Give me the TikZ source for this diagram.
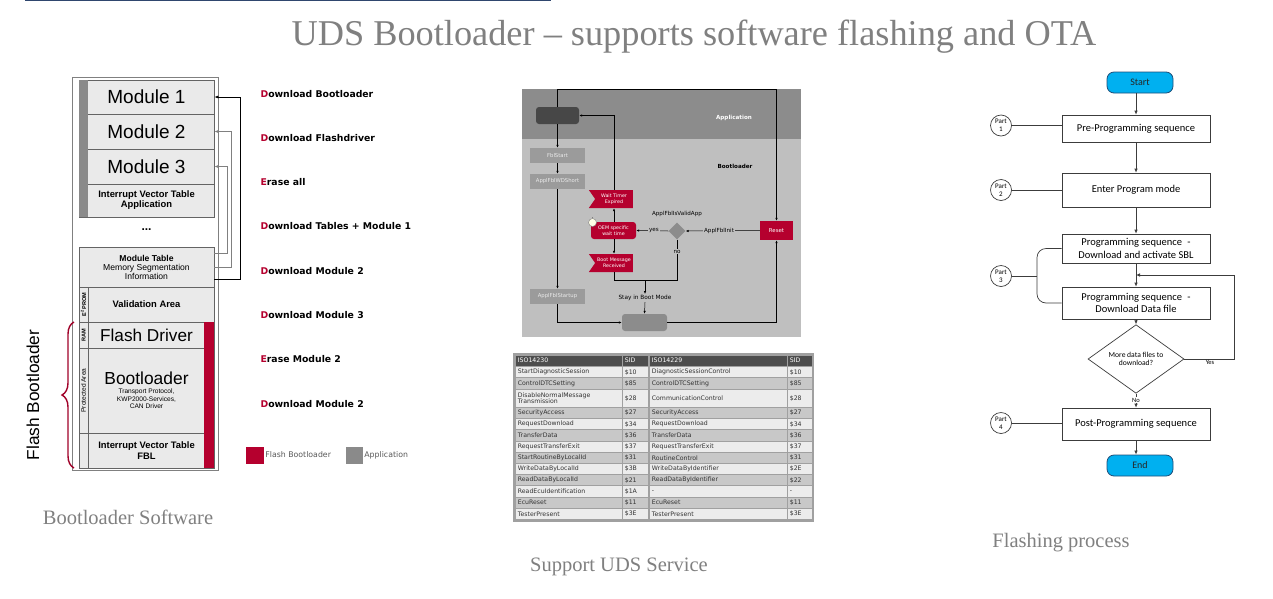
\documentclass[tikz,border=0pt]{standalone}
\usepackage{fontspec}
\setmainfont{Liberation Serif}
\newfontfamily\arial{Liberation Sans}
\newfontfamily\verd{DejaVu Sans}
\newfontfamily\cali{Carlito}
\usetikzlibrary{shapes.geometric,shapes.symbols,decorations.pathreplacing,arrows.meta,calc}
\definecolor{fbred}{RGB}{181,0,46}
\definecolor{bracered}{RGB}{160,0,40}
\definecolor{titlegray}{RGB}{128,128,128}
\definecolor{memline}{RGB}{100,100,100}
\definecolor{memfill}{RGB}{234,234,234}
\definecolor{stripgray}{RGB}{138,138,138}
\definecolor{topblue}{RGB}{47,70,110}
\definecolor{appband}{RGB}{140,140,140}
\definecolor{blband}{RGB}{191,191,191}
\definecolor{darkbox}{RGB}{71,71,71}
\definecolor{stbox}{RGB}{155,155,155}
\definecolor{thead}{RGB}{77,77,77}
\definecolor{tlight}{RGB}{236,236,236}
\definecolor{tdark}{RGB}{200,200,200}
\definecolor{tgrid}{RGB}{160,160,160}
\definecolor{fcblue}{RGB}{0,176,240}
\definecolor{fcblueline}{RGB}{31,78,121}
\definecolor{fcline}{RGB}{60,60,60}
\begin{document}
\begin{tikzpicture}[x=1pt,y=-1pt,
  mem/.style={draw=memline, line width=0.6pt, fill=memfill, minimum width=135pt, inner sep=0pt, align=center},
  dl/.style={anchor=west, font=\verd\bfseries\fontsize{9.3}{10}\selectfont},
  captxt/.style={text=titlegray, font=\fontsize{20.5}{23}\selectfont},
  sarr/.style={draw=black, line width=0.5pt, -{Latex[length=3pt,width=2.4pt]}},
  sline/.style={draw=black, line width=0.5pt},
  stb/.style={fill=stbox, text=white!92!black, minimum width=55pt, minimum height=15pt, inner sep=0pt, font=\verd\fontsize{5.3}{6}\selectfont},
  redb/.style={fill=fbred, text=white, inner sep=0pt, align=center, font=\verd\fontsize{4.8}{5.6}\selectfont},
  smalltxt/.style={font=\verd\fontsize{5.6}{6}\selectfont, inner sep=1pt},
  cell/.style={draw=tgrid, line width=0.7pt, inner xsep=2.5pt, inner ysep=0pt, anchor=west, align=left, font=\verd\fontsize{6.2}{6.8}\selectfont, text=black!80},
  fbox/.style={draw=fcline, line width=0.7pt, fill=white, minimum width=148pt, inner sep=0pt, align=center, font=\cali\fontsize{10.5}{12.5}\selectfont},
  term/.style={draw=fcblueline, line width=0.8pt, fill=fcblue, rounded corners=7pt, minimum width=66pt, minimum height=21pt, inner sep=0pt, font=\cali\fontsize{10}{12}\selectfont, text=black!85},
  part/.style={circle, draw=fcline, line width=0.7pt, fill=white, minimum size=21pt, inner sep=0pt, align=center, font=\cali\fontsize{7}{8}\selectfont},
  farr/.style={draw=fcline, line width=0.7pt, -{Latex[length=4pt,width=3.5pt]}},
  fline/.style={draw=fcline, line width=0.7pt}]
\useasboundingbox (0,0) rectangle (1273,598);
\fill[white] (0,0) rectangle (1273,598);
% top rule and title
\draw[topblue, line width=1.2pt] (25,0.6) -- (551,0.6);
\node[text=titlegray, font=\fontsize{36.3}{40}\selectfont] (title) at (694,37) {UDS Bootloader – supports software flashing and OTA};

% ================= LEFT: memory layout =================
\node[draw=titlegray, line width=0.6pt, minimum width=146pt, minimum height=393pt, inner sep=0pt] (outer) at (145,273.5) {};
\node[mem, minimum height=34pt, font=\arial\fontsize{19}{20}\selectfont] (m1) at (146.5,97) {Module 1};
\node[mem, minimum height=35pt, font=\arial\fontsize{19}{20}\selectfont] (m2) at (146.5,131.5) {Module 2};
\node[mem, minimum height=35pt, font=\arial\fontsize{19}{20}\selectfont] (m3) at (146.5,166.5) {Module 3};
\node[mem, minimum height=33pt, font=\arial\bfseries\fontsize{9.4}{10}\selectfont] (ivta) at (146.5,200.5) {Interrupt Vector Table\\Application};
\fill[stripgray] (79.3,80) rectangle (88,217);
\node[font=\arial\bfseries\fontsize{12}{12}\selectfont] (dots) at (146.5,230) {...};
\node[mem, minimum height=40pt, font=\arial\fontsize{8.6}{9}\selectfont] (mt) at (146.5,267) {\textbf{Module Table}\\Memory Segmentation\\Information};
\node[mem, minimum height=35pt, font=\arial\bfseries\fontsize{9.4}{10}\selectfont] (va) at (146.5,304.5) {Validation Area};
\node[mem, minimum height=26pt, font=\arial\fontsize{17.2}{18}\selectfont] (fd) at (146.5,335) {Flash Driver};
\node[mem, minimum height=85pt, font=\arial\fontsize{6.6}{7.6}\selectfont] (bl) at (146.5,390.5) {{\fontsize{17.4}{19}\selectfont Bootloader}\\[1pt]Transport Protocol,\\KWP2000-Services,\\CAN Driver};
\node[mem, minimum height=35pt, font=\arial\bfseries\fontsize{9.4}{11}\selectfont] (ivtf) at (146.5,450.5) {Interrupt Vector Table\\FBL};
\fill[fbred] (204,322) rectangle (214,468);
\draw[memline, line width=0.5pt] (88,287) -- (88,468);
\node[rotate=90, font=\arial\bfseries\fontsize{5.6}{6}\selectfont] (lbe) at (83.6,304.5) {E\textsuperscript{2}PROM};
\node[rotate=90, font=\arial\bfseries\fontsize{5.6}{6}\selectfont] (lbr) at (83.6,335) {RAM};
\node[rotate=90, font=\arial\fontsize{6.6}{7}\selectfont] (lbp) at (83.6,390.5) {Protected Area};
% pointers from module table
\draw[black, line width=0.6pt, -{Latex[length=4pt,width=3pt]}] ([yshift=-12pt]mt.east) -- ++(26,0) |- (m1.east);
\draw[gray, line width=0.6pt, -{Latex[length=4pt,width=3pt]}] (mt.east) -- ++(17,0) |- (m2.east);
\draw[gray, line width=0.6pt, -{Latex[length=4pt,width=3pt]}] ([yshift=14pt]mt.east) -- ++(13,0) |- (m3.east);
% brace
\draw[bracered, line width=1.4pt, decorate, decoration={brace, amplitude=12pt}] (74,468) -- (74,322);
\node[rotate=90, font=\arial\fontsize{17.3}{18}\selectfont] (fbl) at (33,395) {Flash Bootloader};
\node[captxt] (cap1) at (128,517) {Bootloader Software};

% download steps
\node[dl] (d1) at (257,94) {\textcolor{fbred}{D}ownload Bootloader};
\node[dl] (d2) at (257,138) {\textcolor{fbred}{D}ownload Flashdriver};
\node[dl] (d3) at (257,182) {\textcolor{fbred}{E}rase all};
\node[dl] (d4) at (257,226) {\textcolor{fbred}{D}ownload Tables + Module 1};
\node[dl] (d5) at (257,271) {\textcolor{fbred}{D}ownload Module 2};
\node[dl] (d6) at (257,315) {\textcolor{fbred}{D}ownload Module 3};
\node[dl] (d7) at (257,359) {\textcolor{fbred}{E}rase Module 2};
\node[dl] (d8) at (257,404) {\textcolor{fbred}{D}ownload Module 2};
% legend
\node[fill=fbred, minimum width=18pt, minimum height=17pt, inner sep=0pt] (lg1) at (255,455) {};
\node[anchor=west, inner sep=1pt, text=black!65, font=\verd\fontsize{7.8}{8}\selectfont] (lg1t) at (lg1.east) {Flash Bootloader};
\node[fill=stripgray, minimum width=17pt, minimum height=17pt, inner sep=0pt] (lg2) at (354.5,455) {};
\node[anchor=west, inner sep=1pt, text=black!65, font=\verd\fontsize{7.8}{8}\selectfont] (lg2t) at (lg2.east) {Application};

% ================= MIDDLE: state diagram =================
\fill[blband] (522,89) rectangle (801,337);
\fill[appband] (522,89) rectangle (801,139);
\node[fill=darkbox, rounded corners=3pt, minimum width=43pt, minimum height=17pt, inner sep=0pt] (dk) at (557.5,115.5) {};
\node[text=white, font=\verd\bfseries\fontsize{5.6}{6}\selectfont] (applbl) at (734,118) {Application};
\node[text=black, font=\verd\bfseries\fontsize{5.6}{6}\selectfont] (bllbl) at (735,166) {Bootloader};
\node[stb] (fs) at (557.5,155.5) {FblStart};
\node[stb] (wd) at (557.5,181.5) {ApplFblWDShort};
\node[stb] (su) at (557.5,296.5) {ApplFblStartup};
\node[fill=appband, rounded corners=3pt, minimum width=45pt, minimum height=17pt, inner sep=0pt] (bb) at (644.5,322.5) {};
\node[redb, minimum width=33pt, minimum height=19pt, font=\verd\fontsize{5.4}{6}\selectfont] (rst) at (776.5,230.5) {Reset};
\node[diamond, fill=appband, minimum width=17pt, minimum height=17pt, inner sep=0pt] (dia) at (677,231) {};
\node[redb, rounded corners=3pt, minimum width=45pt, minimum height=17pt] (oem) at (613.5,230.5) {OEM specific\\wait time};
\node[redb, signal, signal from=west, signal to=nowhere, signal pointer angle=110, minimum width=44pt, minimum height=18pt] (wte) at (614,199) {Wait Timer\\Expired};
\node[redb, signal, signal from=west, signal to=nowhere, signal pointer angle=110, minimum width=44pt, minimum height=18pt] (bmr) at (614,263) {Boot Message\\Received};
\node[circle, draw=gray, line width=0.4pt, fill=yellow!10!white, minimum size=8pt, inner sep=0pt] (clk) at (592.5,222.5) {};
\draw[gray, line width=0.6pt] (clk.north) -- ++(0,-1.5);
\node[smalltxt] (valid) at (677,214) {ApplFblIsValidApp};
\node[smalltxt, font=\verd\fontsize{5.8}{6}\selectfont] (sbm) at (645,298) {Stay in Boot Mode};
\coordinate (jn) at (645,280);
% connectors
\draw[sarr] (dk.north) -- ++(0,-17.5) -| (rst.north);
\draw[sarr] (dk.south) -- (fs.north);
\draw[sarr] (fs.south) -- (wd.north);
\draw[sarr] (wd.south) -- (su.north);
\draw[sarr] (su.south) |- (bb.west);
\draw[sarr] (bb.east) -| (rst.south);
\draw[sarr] (rst.west) -- node[smalltxt, fill=blband, pos=0.55] (initlbl) {ApplFblInit} (dia.east);
\draw[sarr] (dia.west) -- node[smalltxt, fill=blband, pos=0.45] (yeslbl) {yes} (oem.east);
\draw[sarr] (oem.north -| wte.south) -- (wte.south);
\draw[sarr] (wte.north) |- (dk.east);
\draw[sarr] (oem.south -| bmr.north) -- (bmr.north);
\draw[sline] (bmr.south) |- (jn);
\draw[sline] (dia.south) -- node[smalltxt, fill=blband, pos=0.3] (nolbl) {no} (dia.south |- jn) -- (jn);
\draw[sarr] (jn) -- (sbm.north);
\draw[sarr] (sbm.south) -- (bb.north);

% ================= MIDDLE: table =================
\fill[tgrid] (513,353) rectangle (814,521.5);
\node[cell, fill=thead, text=white, text width=102pt, minimum height=11.5pt] (h1) at (515,360.6) {ISO14230};
\node[cell, fill=thead, text=white, text width=21pt, minimum height=11.5pt] (h2) at (622,360.6) {SID};
\node[cell, fill=thead, text=white, text width=133pt, minimum height=11.5pt] (h3) at (649,360.6) {ISO14229};
\node[cell, fill=thead, text=white, text width=20pt, minimum height=11.5pt] (h4) at (787,360.6) {SID};
\foreach \i/\y/\h/\a/\b/\c/\d/\f in {
  1/372.1/11.2/StartDiagnosticSession/\$10/DiagnosticSessionControl/\$10/tlight,
  2/383.3/11.2/ControlDTCSetting/\$85/ControlDTCSetting/\$85/tdark,
  3/398.2/18.5/{DisableNormalMessage\\Transmission}/\$28/CommunicationControl/\$28/tlight,
  4/413.0/11.2/SecurityAccess/\$27/SecurityAccess/\$27/tdark,
  5/424.2/11.2/RequestDownload/\$34/RequestDownload/\$34/tlight,
  6/435.4/11.2/TransferData/\$36/TransferData/\$36/tdark,
  7/446.6/11.2/RequestTransferExit/\$37/RequestTransferExit/\$37/tlight,
  8/457.8/11.2/StartRoutineByLocalId/\$31/RoutineControl/\$31/tdark,
  9/469.0/11.2/WriteDataByLocalId/\$3B/WriteDataByIdentifier/\$2E/tlight,
  10/480.2/11.2/ReadDataByLocalId/\$21/ReadDataByIdentifier/\$22/tdark,
  11/491.4/11.2/ReadEcuIdentification/\$1A/-/-/tlight,
  12/502.6/11.2/EcuReset/\$11/EcuReset/\$11/tdark,
  13/513.8/11.2/TesterPresent/\$3E/TesterPresent/\$3E/tlight}{
  \node[cell, fill=\f, text width=102pt, minimum height=\h pt] (r\i a) at (515,\y) {\a};
  \node[cell, fill=\f, text width=21pt, minimum height=\h pt] (r\i b) at (622,\y) {\b};
  \node[cell, fill=\f, text width=133pt, minimum height=\h pt] (r\i c) at (649,\y) {\c};
  \node[cell, fill=\f, text width=20pt, minimum height=\h pt] (r\i d) at (787,\y) {\d};
}
\node[captxt] (cap2) at (619,567) {Support UDS Service};

% ================= RIGHT: flowchart =================
\node[term] (st) at (1140,82.5) {Start};
\node[fbox, minimum height=27pt] (pre) at (1136,128.5) {Pre-Programming sequence};
\node[fbox, minimum height=34pt] (epm) at (1136,190) {Enter Program mode};
\node[fbox, minimum height=29pt] (sbl) at (1136,248.5) {Programming sequence\enspace -\\Download and activate SBL};
\node[fbox, minimum height=32pt] (dat) at (1136,303) {Programming sequence\enspace -\\Download Data file};
\node[diamond, draw=fcline, line width=0.7pt, fill=white, minimum width=96pt, minimum height=34pt, inner sep=0pt, align=center, font=\cali\fontsize{7.6}{8.6}\selectfont] (dq) at (1136,359) {More data files to\\download?};
\node[fbox, minimum height=32pt] (post) at (1136,424) {Post-Programming sequence};
\node[term] (en) at (1140,465.5) {End};
\node[part] (p1) at (1001,125.5) {Part\\1};
\node[part] (p2) at (1001,190) {Part\\2};
\node[part] (p3) at (1001,276) {Part\\3};
\node[part] (p4) at (1001,423) {Part\\4};
\coordinate (p3j) at (1037,276);
\coordinate (lj) at (1136,275);
\draw[farr] (st.south -| pre.north) -- (pre.north);
\draw[farr] (pre.south) -- (epm.north);
\draw[farr] (epm.south) -- (sbl.north);
\draw[farr] (sbl.south) -- (dat.north);
\draw[farr] (dat.south) -- (dq.north);
\draw[farr] (dq.south) -- node[fill=white, inner sep=0.5pt, font=\cali\fontsize{6.5}{7}\selectfont, pos=0.45] (nol) {No} (post.north);
\draw[farr] (post.south) -- (en.north -| post.south);
\draw[farr] (dq.east) -- ++(50,0) |- (lj);
\node[font=\cali\fontsize{6.5}{7}\selectfont, inner sep=0.5pt] (yesl) at (1210,362.5) {Yes};
\draw[fline] (p1.east) -- (p1 -| pre.west);
\draw[fline] (p2.east) -- (p2 -| epm.west);
\draw[fline] (p4.east) -- (p4 -| post.west);
\draw[fline] (p3.east) -- (p3j);
\draw[fline, rounded corners=9pt] (sbl.west) -| (p3j) |- (dat.west);
\node[captxt] (cap3) at (1061,543) {Flashing process};
\end{tikzpicture}
\end{document}
